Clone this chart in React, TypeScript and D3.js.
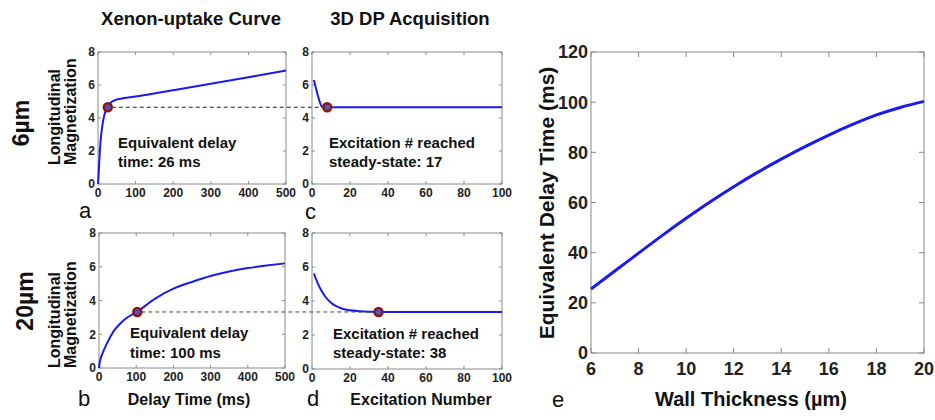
import React from 'react';
import * as d3 from 'd3';

// a: 6um xenon uptake
const delayA = [0, 1, 3, 5, 8, 12, 16, 20, 26, 35, 45, 60, 100, 200, 300, 400, 500];
const magA = [0, 0.3, 1.2, 2.0, 2.9, 3.6, 4.1, 4.4, 4.68, 4.95, 5.08, 5.17, 5.3, 5.68, 6.07, 6.47, 6.88];
// c: 6um DP acquisition
const excC = [1, 2, 3, 4, 5, 6, 8, 20, 50, 100];
const magC = [6.3, 5.85, 5.4, 5.0, 4.72, 4.66, 4.65, 4.65, 4.65, 4.65];
// b: 20um xenon uptake
const delayB = [0, 2, 5, 10, 20, 40, 60, 80, 100, 150, 200, 250, 300, 350, 400, 450, 500];
const magB = [0, 0.35, 0.6, 0.9, 1.4, 2.2, 2.7, 3.05, 3.3, 4.1, 4.7, 5.1, 5.45, 5.72, 5.92, 6.07, 6.2];
// d: 20um DP acquisition
const excD = [1, 3, 5, 7, 10, 13, 16, 20, 25, 30, 40, 100];
const magD = [5.62, 5.05, 4.6, 4.25, 3.9, 3.68, 3.54, 3.45, 3.4, 3.37, 3.36, 3.36];
// e: wall thickness vs delay
const wall = [6, 7, 8, 9, 10, 11, 12, 13, 14, 15, 16, 17, 18, 19, 20];
const delayE = [25.5, 32.7, 39.8, 46.9, 53.7, 60.2, 66.3, 72.0, 77.3, 82.3, 86.9, 91.1, 94.9, 97.9, 100.3];

// steady-state markers
const markA = [26, 4.65];
const markC = [8, 4.65];
const markB = [103, 3.32];
const markD = [35, 3.35];

const ticks8 = [0, 2, 4, 6, 8];
const ticks500 = [0, 100, 200, 300, 400, 500];
const ticks100 = [0, 20, 40, 60, 80, 100];
const ticksE_x = [6, 8, 10, 12, 14, 16, 18, 20];
const ticksE_y = [0, 20, 40, 60, 80, 100, 120];

const BLUE = '#1a1aee';
const AXIS = '#8a8a8a';
const FONT = "'Liberation Sans', Arial, sans-serif";
const NARROW = "'Liberation Sans Narrow', 'Liberation Sans', Arial, sans-serif";

type PanelProps = {
  box: number[]; // left, right, top, bottom
  xDom: number[];
  yDom: number[];
  xTicks: number[];
  yTicks: number[];
  xs: number[];
  ys: number[];
  mark?: number[];
  tick: number;
  fs: number;
  family: string;
  xLabOff: number;
  lw: number;
};

function makeScales(box: number[], xDom: number[], yDom: number[]) {
  const x = d3.scaleLinear().domain(xDom).range([box[0], box[1]]);
  const y = d3.scaleLinear().domain(yDom).range([box[3], box[2]]);
  return { x, y };
}

function Panel(p: PanelProps) {
  const { x, y } = makeScales(p.box, p.xDom, p.yDom);
  const [l, r, t, b] = p.box;
  const line = d3.line<number>()
    .x((d, i) => x(p.xs[i]))
    .y(d => y(d))
    .curve(d3.curveMonotoneX);
  return (
    <g>
      <rect x={l} y={t} width={r - l} height={b - t} fill="white" stroke={AXIS} strokeWidth={1} />
      {p.xTicks.map(v => (
        <g key={'x' + v}>
          <line x1={x(v)} x2={x(v)} y1={b} y2={b - p.tick} stroke={AXIS} />
          <line x1={x(v)} x2={x(v)} y1={t} y2={t + p.tick} stroke={AXIS} />
          <text x={x(v)} y={b + p.xLabOff} textAnchor="middle" fontSize={p.fs}
            fontWeight="bold" fontFamily={p.family} fill="#222">{v}</text>
        </g>
      ))}
      {p.yTicks.map(v => (
        <g key={'y' + v}>
          <line x1={l} x2={l + p.tick} y1={y(v)} y2={y(v)} stroke={AXIS} />
          <line x1={r} x2={r - p.tick} y1={y(v)} y2={y(v)} stroke={AXIS} />
          <text x={l - 3} y={y(v)} dy="0.36em" textAnchor="end" fontSize={p.fs}
            fontWeight="bold" fontFamily={p.family} fill="#222">{v}</text>
        </g>
      ))}
      <path d={line(p.ys) || ''} fill="none" stroke={BLUE} strokeWidth={p.lw} />
      {p.mark && (
        <circle cx={x(p.mark[0])} cy={y(p.mark[1])} r={4} fill="#4a56c8"
          stroke="#8e1414" strokeWidth={2.5} />
      )}
    </g>
  );
}

const boxA = [98, 286, 52, 184];
const boxC = [312, 502, 52, 184];
const boxB = [99, 285, 233, 368];
const boxD = [312, 502, 233, 369];
const boxE = [591, 924, 52, 353];

function T(props: any) {
  const { children, ...rest } = props;
  return <text fontFamily={FONT} fontWeight="bold" fill="#111" {...rest}>{children}</text>;
}

export default function App() {
  const sA = makeScales(boxA, [0, 500], [0, 8]);
  const sC = makeScales(boxC, [0, 100], [0, 8]);
  const sB = makeScales(boxB, [0, 500], [0, 8]);
  const sD = makeScales(boxD, [0, 100], [0, 8]);
  const small = { tick: 3, fs: 12, family: FONT, xLabOff: 13, lw: 2 };
  return (
    <svg width={935} height={420} style={{ position: 'absolute', left: 0, top: 0, background: 'white' }}>
      <Panel box={boxA} xDom={[0, 500]} yDom={[0, 8]} xTicks={ticks500} yTicks={ticks8}
        xs={delayA} ys={magA} {...small} />
      <Panel box={boxC} xDom={[0, 100]} yDom={[0, 8]} xTicks={ticks100} yTicks={ticks8}
        xs={excC} ys={magC} {...small} />
      <Panel box={boxB} xDom={[0, 500]} yDom={[0, 8]} xTicks={ticks500} yTicks={ticks8}
        xs={delayB} ys={magB} {...small} />
      <Panel box={boxD} xDom={[0, 100]} yDom={[0, 8]} xTicks={ticks100} yTicks={ticks8}
        xs={excD} ys={magD} {...small} />
      <Panel box={boxE} xDom={[6, 20]} yDom={[0, 120]} xTicks={ticksE_x} yTicks={ticksE_y}
        xs={wall} ys={delayE} tick={5} fs={18} family={NARROW} xLabOff={22} lw={3} />

      {/* dashed connectors */}
      <line x1={sA.x(markA[0]) + 4} x2={sC.x(markC[0]) - 4} y1={sA.y(markA[1])} y2={sA.y(markA[1])}
        stroke="#222" strokeDasharray="4,3" />
      <line x1={sB.x(markB[0]) + 4} x2={sD.x(markD[0]) - 4} y1={sB.y(markB[1])} y2={sB.y(markB[1])}
        stroke="#444" strokeDasharray="4,3" />
      {[[sA, markA], [sC, markC], [sB, markB], [sD, markD]].map(([s, m]: any, i) => (
        <circle key={i} cx={s.x(m[0])} cy={s.y(m[1])} r={4} fill="#4a56c8" stroke="#8e1414" strokeWidth={2.5} />
      ))}

      <T x={191} y={25} textAnchor="middle" fontSize={18.5}>Xenon-uptake Curve</T>
      <T x={410} y={25} textAnchor="middle" fontSize={18.5}>3D DP Acquisition</T>

      <T transform="translate(29,123) rotate(-90)" textAnchor="middle" fontSize={23}>6µm</T>
      <T transform="translate(33,301) rotate(-90)" textAnchor="middle" fontSize={23}>20µm</T>

      <T transform="translate(60,165) rotate(-90)" fontSize={16}>Longitudinal</T>
      <T transform="translate(76,165) rotate(-90)" fontSize={16}>Magnetization</T>
      <T transform="translate(60,368) rotate(-90)" fontSize={16}>Longitudinal</T>
      <T transform="translate(76,368) rotate(-90)" fontSize={16}>Magnetization</T>

      <T x={118} y={148} fontSize={15}>Equivalent delay</T>
      <T x={118} y={167} fontSize={15}>time: 26 ms</T>
      <T x={329} y={148} fontSize={15}>Excitation # reached</T>
      <T x={329} y={167} fontSize={15}>steady-state: 17</T>
      <T x={130} y={338} fontSize={15}>Equivalent delay</T>
      <T x={130} y={358} fontSize={15}>time: 100 ms</T>
      <T x={333} y={339} fontSize={15}>Excitation # reached</T>
      <T x={333} y={358} fontSize={15}>steady-state: 38</T>

      <T x={189} y={405} textAnchor="middle" fontSize={16}>Delay Time (ms)</T>
      <T x={421} y={405} textAnchor="middle" fontSize={16}>Excitation Number</T>
      <T x={751} y={406} textAnchor="middle" fontSize={20}>Wall Thickness (µm)</T>
      <T transform="translate(554,203) rotate(-90)" textAnchor="middle" fontSize={21}>Equivalent Delay Time (ms)</T>

      {[['a', 79, 218], ['b', 78, 406], ['c', 305, 219], ['d', 307, 406], ['e', 552, 407]].map(([s, x, y]: any) => (
        <text key={s} x={x} y={y} fontSize={22} fontFamily={FONT} fill="#111">{s}</text>
      ))}
    </svg>
  );
}
